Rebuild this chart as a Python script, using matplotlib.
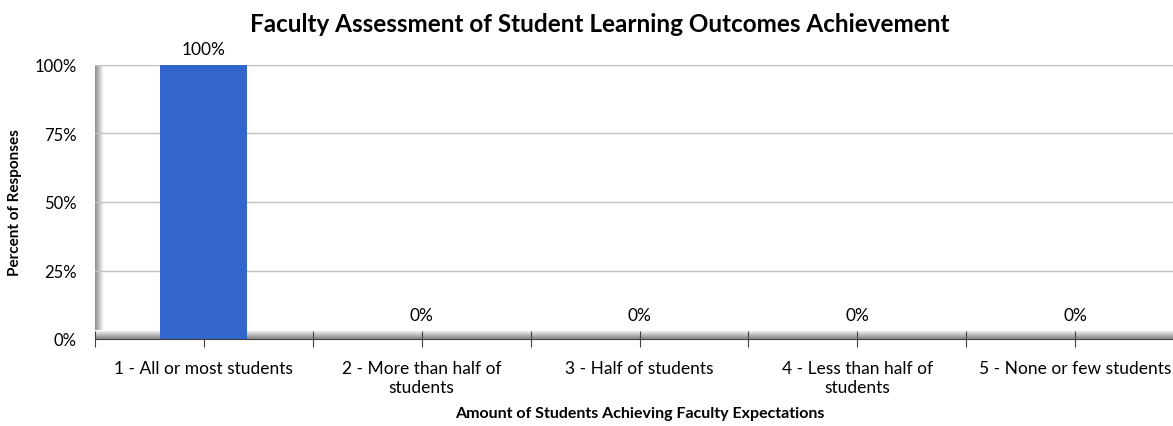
import matplotlib.pyplot as plt
import numpy as np

categories = ["1 - All or most students", "2 - More than half of\nstudents",
              "3 - Half of students", "4 - Less than half of\nstudents",
              "5 - None or few students"]
percent = [100, 0, 0, 0, 0]
yticks = [0, 25, 50, 75, 100]

plt.rcParams['font.family'] = ['Lato', 'DejaVu Sans']

fig = plt.figure(figsize=(11.73, 4.27), dpi=100)
ax = fig.add_axes([95 / 1173, 87 / 427, 1089 / 1173, 274 / 427])

x = np.arange(len(categories))
ax.set_xlim(-0.5, len(categories) - 0.5)
ax.set_ylim(0, 100)

# fake 3d wall and floor gradients
wall = np.linspace(0.55, 1.0, 50).reshape(1, -1)
ax.imshow(wall, cmap='gray', vmin=0, vmax=1, aspect='auto',
          extent=[0, 0.0075, 0, 1], transform=ax.transAxes, zorder=0)
floor = np.linspace(0.5, 1.0, 50).reshape(-1, 1)
ax.imshow(floor, cmap='gray', vmin=0, vmax=1, aspect='auto', origin='lower',
          extent=[0, 1, 0, 0.03], transform=ax.transAxes, zorder=0)

ax.set_yticks(yticks)
ax.set_yticklabels([f"{v}%" for v in yticks], fontsize=12)
ax.grid(axis='y', color='#c0c0c0', linewidth=1, zorder=1)
ax.tick_params(axis='y', length=0, pad=13)

bars = ax.bar(x, percent, width=0.4, color='#3366cc', zorder=3)
for xi, v in zip(x, percent):
    ax.text(xi, v + 3 if v > 0 else 6, f"{v}%", ha='center', va='bottom', fontsize=12.5)

ax.xaxis.remove_overlapping_locs = False
ax.set_xticks(np.arange(-0.5, len(categories), 0.5))
ax.set_xticklabels([])
ax.set_xticks(x, minor=True)
ax.set_xticklabels(categories, minor=True, fontsize=12.5, linespacing=1.25)
ax.tick_params(axis='x', which='major', direction='inout', length=12, color='#404040')
ax.tick_params(axis='x', which='minor', length=0, pad=15)

for s in ['top', 'right', 'left']:
    ax.spines[s].set_visible(False)
ax.spines['bottom'].set_color('#404040')
ax.spines['bottom'].set_zorder(5)

fig.text(15 / 1173, (427 - 203) / 427, "Percent of Responses", rotation=90,
         ha='center', va='center', fontsize=11, fontweight='bold')
ax.set_xlabel("Amount of Students Achieving Faculty Expectations", fontsize=11.5,
              fontweight='bold', labelpad=8)
fig.text(0.511, 0.915, "Faculty Assessment of Student Learning Outcomes Achievement",
         ha='center', va='bottom', fontsize=17.5, fontweight='bold')

fig.savefig("out.png", dpi=100)
